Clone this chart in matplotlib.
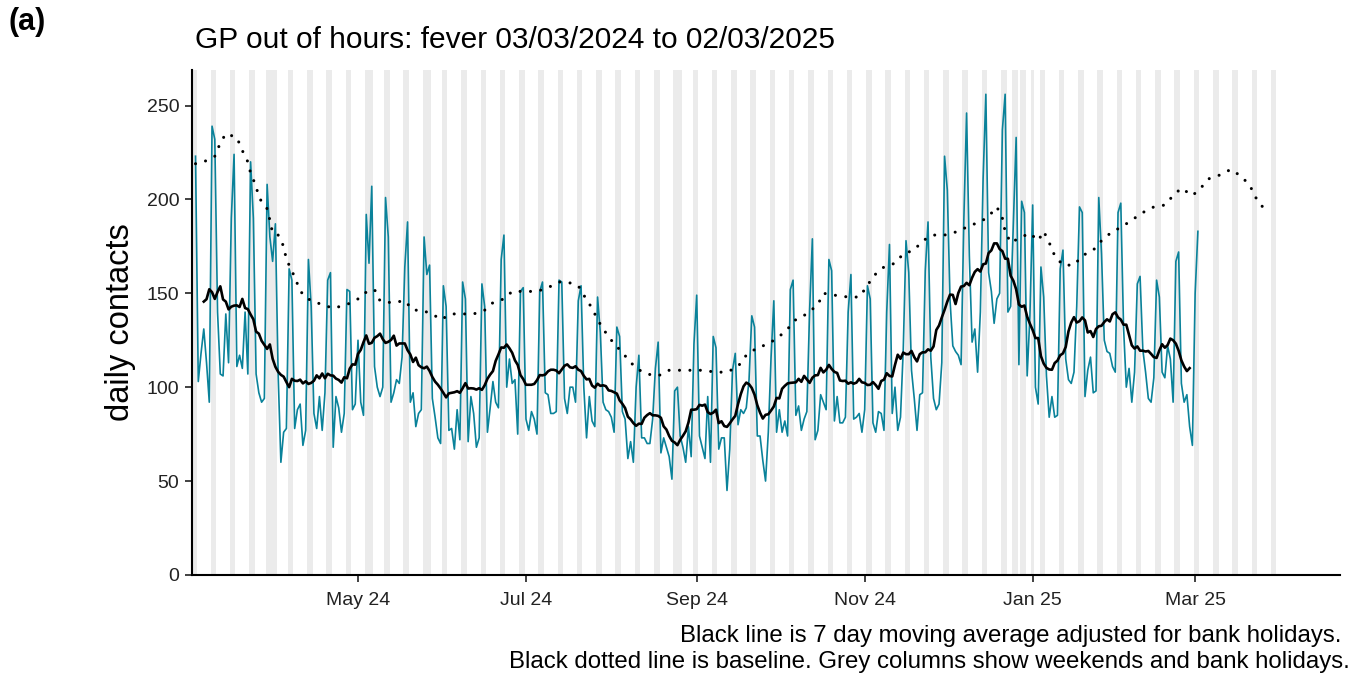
import matplotlib
matplotlib.use("Agg")
import matplotlib.pyplot as plt
import matplotlib.dates as mdates
import numpy as np
import pandas as pd

plt.rcParams['font.family'] = ['Liberation Sans', 'DejaVu Sans']

# daily GP out of hours fever contacts, 03/03/2024 .. 02/03/2025
start_date = "2024-03-03"
contacts = [
    223,
    103, 118, 131, 113, 92, 239, 232,
    140, 107, 106, 139, 113, 190, 224,
    111, 117, 110, 140, 107, 220, 190,
    107, 97, 92, 94, 208, 180, 167,
    187, 107, 60, 76, 78, 163, 157,
    78, 88, 91, 69, 77, 168, 143,
    86, 78, 95, 77, 97, 157, 161,
    68, 95, 89, 76, 86, 152, 151,
    88, 91, 125, 92, 85, 192, 166,
    207, 111, 100, 95, 100, 201, 180,
    92, 97, 104, 102, 116, 164, 188,
    92, 97, 79, 86, 88, 180, 160,
    165, 94, 84, 73, 70, 154, 143,
    77, 78, 67, 88, 72, 156, 147,
    71, 95, 86, 68, 73, 155, 143,
    76, 89, 103, 92, 89, 168, 181,
    100, 115, 102, 104, 75, 151, 153,
    83, 77, 87, 83, 75, 151, 156,
    97, 96, 86, 86, 87, 157, 156,
    94, 86, 100, 100, 92, 146, 154,
    100, 73, 95, 82, 79, 148, 129,
    92, 88, 87, 84, 76, 132, 127,
    87, 83, 62, 71, 60, 100, 117,
    73, 73, 70, 70, 83, 110, 124,
    65, 73, 68, 63, 51, 98, 100,
    74, 68, 60, 79, 63, 123, 149,
    74, 68, 62, 95, 60, 127, 121,
    67, 73, 73, 45, 67, 109, 118,
    80, 88, 86, 89, 104, 138, 132,
    74, 74, 61, 50, 76, 116, 146,
    76, 88, 76, 82, 74, 152, 157,
    85, 90, 77, 83, 87, 141, 179,
    72, 77, 96, 92, 88, 168, 162,
    82, 95, 81, 81, 84, 140, 160,
    83, 84, 86, 76, 88, 154, 147,
    81, 76, 87, 86, 77, 140, 176,
    86, 100, 77, 84, 120, 178, 161,
    109, 94, 77, 96, 97, 162, 188,
    116, 94, 88, 91, 113, 223, 205,
    146, 122, 119, 117, 112, 189, 246,
    170, 124, 131, 108, 140, 211, 256,
    161, 151, 134, 147, 150, 237, 256,
    140, 143, 188, 233, 112, 199, 193,
    106, 138, 197, 100, 91, 164, 148,
    106, 84, 95, 84, 85, 163, 173,
    115, 104, 102, 108, 143, 196, 193,
    95, 109, 116, 97, 98, 201, 171,
    125, 119, 118, 111, 108, 193, 198,
    132, 100, 110, 92, 108, 155, 159,
    120, 108, 94, 92, 105, 157, 148,
    108, 105, 122, 115, 92, 167, 172,
    102, 92, 96, 79, 69, 150, 183,
]

# baseline (days after start date, value)
baseline_offset = [0, 3, 7, 9, 11, 15, 17, 19, 20, 22, 23, 26, 27, 28, 30, 32, 33, 35, 37, 39,
                   42, 46, 50, 55, 59, 61, 65, 67, 71, 76, 79, 82, 86, 89, 93, 97, 101, 105, 108, 112,
                   115, 119, 124, 128, 132, 135, 139, 141, 144, 146, 148, 151, 154, 157, 160, 164, 168, 172, 176, 180,
                   184, 189, 193, 197, 200, 204, 208, 212, 215, 218, 222, 226, 228, 232, 237, 241, 244, 246, 250, 254,
                   257, 261, 264, 268, 272, 277, 281, 285, 288, 291, 293, 294, 296, 300, 303, 306, 308, 310, 312, 315,
                   319, 322, 326, 329, 333, 336, 340, 344, 348, 352, 355, 358, 362, 365, 368, 372, 376, 380, 383, 385, 388]
baseline_value = [219, 220, 223, 230, 235, 233, 226, 220, 214, 207, 201, 195, 189, 182, 181, 175, 168, 162, 155, 149,
                  146, 144, 142, 144, 147, 150, 152, 146, 145, 146, 141, 141, 139, 136, 139, 139, 139, 141, 145, 147,
                  151, 151, 151, 153, 156, 156, 154, 149, 142, 136, 131, 125, 120, 115, 110, 107, 106, 109, 109, 109,
                  109, 108, 108, 111, 117, 121, 123, 127, 131, 136, 139, 144, 150, 149, 148, 148, 154, 159, 164, 166,
                  171, 173, 178, 181, 181, 183, 186, 188, 191, 196, 190, 183, 177, 180, 182, 178, 183, 177, 170, 165,
                  165, 170, 173, 178, 183, 185, 189, 193, 196, 197, 202, 206, 202, 206, 211, 213, 216, 212, 207, 201, 195]

bank_holidays = ["2024-03-29", "2024-04-01", "2024-05-06", "2024-05-27",
                 "2024-08-26", "2024-12-25", "2024-12-26", "2025-01-01"]
grey_start, grey_end = "2024-03-02", "2025-03-30"

tick_dates = ["2024-05-01", "2024-07-01", "2024-09-01", "2024-11-01", "2025-01-01", "2025-03-01"]
tick_labels = ["May 24", "Jul 24", "Sep 24", "Nov 24", "Jan 25", "Mar 25"]
y_ticks = [0, 50, 100, 150, 200, 250]

dates = pd.date_range(start_date, periods=len(contacts), freq="D")
holidays = pd.to_datetime(bank_holidays)
series = pd.Series(contacts, index=dates, dtype=float)

# 7 day moving average adjusted for bank holidays:
# bank holidays count as weekend days, window = 5 weekday-days + 2 weekend-days
is_weekend = (dates.dayofweek >= 5) | dates.isin(holidays)
wkday_mean = series.where(~is_weekend).rolling(7, center=True, min_periods=1).mean()
wkend_mean = series.where(is_weekend).rolling(7, center=True, min_periods=1).mean()
moving_avg = (5 * wkday_mean + 2 * wkend_mean) / 7
full = series.rolling(7, center=True).count() == 7
moving_avg = moving_avg.where(full)

baseline_dates = pd.Timestamp(start_date) + pd.to_timedelta(baseline_offset, unit="D")

all_days = pd.date_range(grey_start, grey_end, freq="D")
grey_days = [d for d in all_days if d.dayofweek >= 5] + list(holidays)

fig = plt.figure(figsize=(13.7, 6.78), dpi=100)
ax = fig.add_axes([0.1401, 0.152, 0.838, 0.745])

# grey columns for weekends and bank holidays
for d in grey_days:
    c = mdates.date2num(d)
    ax.axvspan(c - 0.5, c + 0.5, color="#EBEBEB", linewidth=0, zorder=0)

ax.plot(dates, series.values, color="#0A829A", linewidth=1.2, zorder=2)
ax.plot(dates, moving_avg.values, color="black", linewidth=1.9, zorder=3)
ax.plot(baseline_dates, baseline_value, color="black", linewidth=2.2,
        linestyle=(0, (0.01, 3.4)), dash_capstyle="round", zorder=3)

x0 = mdates.date2num(pd.Timestamp(start_date))
ax.set_xlim(x0 - 1.3, x0 + 415.6)
ax.set_ylim(0, 269)

ax.set_xticks(pd.to_datetime(tick_dates))
ax.set_xticklabels(tick_labels)
ax.set_yticks(y_ticks)
ax.tick_params(axis="both", labelsize=14, colors="#333333", length=5, width=1.3, labelcolor="#222222")
ax.tick_params(axis="x", pad=7)
ax.tick_params(axis="y", pad=4)

for side in ["top", "right"]:
    ax.spines[side].set_visible(False)
for side in ["left", "bottom"]:
    ax.spines[side].set_linewidth(1.5)
    ax.spines[side].set_color("black")

ax.set_ylabel("daily contacts", fontsize=23.5, labelpad=8)

fig.text(195 / 1370, 1 - 48 / 678, "GP out of hours: fever 03/03/2024 to 02/03/2025",
         fontsize=21.5, va="baseline", ha="left")
fig.text(8 / 1370, 1 - 30 / 678, "(a)", fontsize=22, fontweight="bold", va="baseline", ha="left")
fig.text(1341 / 1370, 1 - 642 / 678, "Black line is 7 day moving average adjusted for bank holidays.",
         fontsize=17.3, va="baseline", ha="right")
fig.text(1350 / 1370, 1 - 668 / 678, "Black dotted line is baseline. Grey columns show weekends and bank holidays.",
         fontsize=17.3, va="baseline", ha="right")

fig.savefig("out.png", dpi=100)
plt.close(fig)
